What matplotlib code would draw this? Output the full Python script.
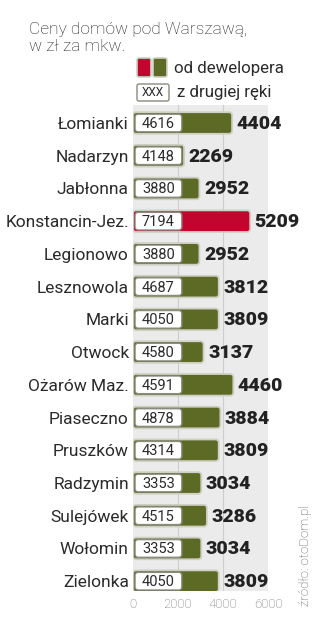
import matplotlib.pyplot as plt
from matplotlib.patches import FancyBboxPatch

cities = ['Łomianki', 'Nadarzyn', 'Jabłonna', 'Konstancin-Jez.', 'Legionowo',
          'Lesznowola', 'Marki', 'Otwock', 'Ożarów Maz.', 'Piaseczno',
          'Pruszków', 'Radzymin', 'Sulejówek', 'Wołomin', 'Zielonka']
developer = [4404, 2269, 2952, 5209, 2952, 3812, 3809, 3137, 4460, 3884,
             3809, 3034, 3286, 3034, 3809]
secondhand = [4616, 4148, 3880, 7194, 3880, 4687, 4050, 4580, 4591, 4878,
              4314, 3353, 4515, 3353, 4050]
highlight = 'Konstancin-Jez.'
xticks = [0, 2000, 4000, 6000]

green = '#5c6a26'
red = '#c1052f'
txt = '#2b2b2b'
font = ['Roboto', 'DejaVu Sans']

W, H = 322, 627
fig = plt.figure(figsize=(W / 100, H / 100), dpi=100)

# main chart: x 0..6000 maps to px 133..268, rows from px 105 to 591
ax = fig.add_axes([133 / W, 1 - 591 / H, 135 / W, 486 / H])
ax.set_facecolor('#ebebeb')
for s in ax.spines.values():
    s.set_visible(False)
ax.set_xlim(0, 6000)
ax.set_ylim(14.3, -0.55)
ax.set_xticks(xticks)
ax.set_xticklabels([str(t) for t in xticks], fontsize=9.5, color='#6e6e6e',
                   family=font, fontweight='light')
ax.tick_params(length=0, pad=5)
ax.set_yticks(range(len(cities)))
ax.set_yticklabels(cities, fontsize=12.5, color=txt, family=font)
ax.tick_params(axis='y', pad=3)
for g in xticks[1:-1]:
    ax.axvline(g, color='#cdcdcd', lw=0.8, zorder=0)

# px -> data conversion for rounded patches
ux = 6000 / 135
uy = 14.85 / 486
asp = uy / ux

bh = 0.66
box_w = 2080
for i, (c, d, s) in enumerate(zip(cities, developer, secondhand)):
    col = red if c == highlight else green
    bar = FancyBboxPatch((0, i - bh / 2), d, bh,
                         boxstyle='round,pad=0,rounding_size=%f' % (3 * ux),
                         mutation_aspect=asp, fc=col, ec='#cfcfc3', lw=1.3, zorder=2)
    ax.add_patch(bar)
    box = FancyBboxPatch((90, i - bh / 2 + 0.06), box_w, bh - 0.12,
                         boxstyle='round,pad=0,rounding_size=%f' % (3 * ux),
                         mutation_aspect=asp, fc='white', ec='#8a8a80', lw=1.0, zorder=3)
    ax.add_patch(box)
    ax.text(90 + box_w / 2, i + 0.03, str(s), ha='center', va='center',
            fontsize=10.5, color=txt, family=font, zorder=4)
    ax.text(max(d, box_w) + 200, i + 0.03, str(d), ha='left', va='center',
            fontsize=14, fontweight='black', color='#222222', family=font,
            zorder=4, clip_on=False)

# overlay in pixel coordinates for title, legend and source
ov = fig.add_axes([0, 0, 1, 1], facecolor='none')
ov.set_xlim(0, W)
ov.set_ylim(H, 0)
ov.axis('off')

ov.text(29, 38, 'Ceny domów pod Warszawą,\nw zł za mkw.', ha='left', va='center',
        fontsize=12.5, color='#1e1e1e', family=font, fontweight='light',
        linespacing=1.1)

r = 2
ov.add_patch(FancyBboxPatch((137, 58), 14, 19, boxstyle='round,pad=0,rounding_size=%d' % r,
                            fc=red, ec='#cfcfc3', lw=1.2))
ov.add_patch(FancyBboxPatch((153, 58), 14, 19, boxstyle='round,pad=0,rounding_size=%d' % r,
                            fc=green, ec='#cfcfc3', lw=1.2))
ov.text(174, 68, 'od dewelopera', ha='left', va='center', fontsize=12.2,
        color=txt, family=font)
ov.add_patch(FancyBboxPatch((137, 84), 32, 17, boxstyle='round,pad=0,rounding_size=%d' % r,
                            fc='white', ec='#8a8a80', lw=1.0))
ov.text(153, 93, 'XXX', ha='center', va='center', fontsize=8.5, color=txt, family=font)
ov.text(177, 92, 'z drugiej ręki', ha='left', va='center', fontsize=12.2,
        color=txt, family=font)

ov.text(306, 555, 'źródło: otoDom.pl', rotation=90, ha='center', va='center',
        fontsize=9.5, color='#555555', family=font, fontweight='light')

fig.savefig('out.png', dpi=100, facecolor='white')
